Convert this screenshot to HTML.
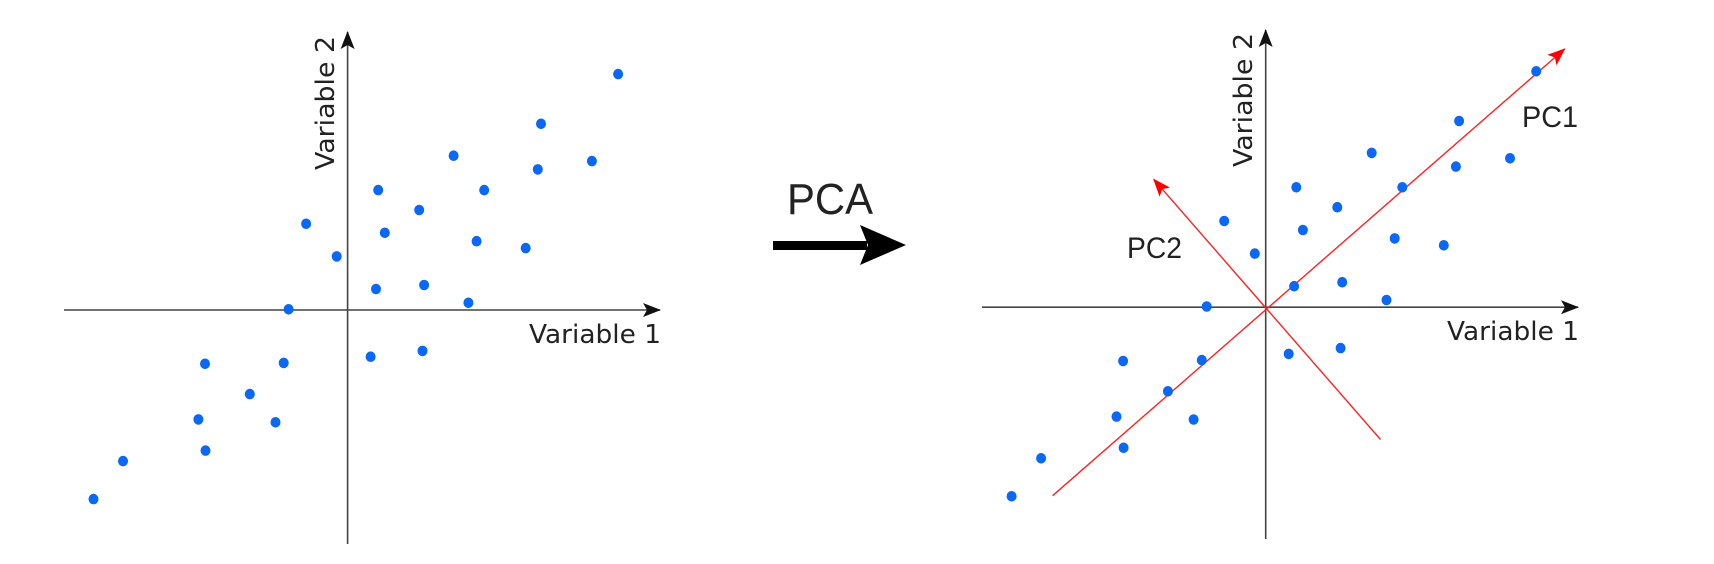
<!DOCTYPE html>
<html><head><meta charset="utf-8"><style>
html,body{margin:0;padding:0;background:#fff;}
svg{display:block;}
text{font-family:"DejaVu Sans","Liberation Sans",sans-serif;fill:#222;}
</style></head><body>
<svg id="chart" width="1714" height="564" viewBox="0 0 1714 564">
  <defs>
    <marker id="blk" markerWidth="18" markerHeight="14" refX="17" refY="7" orient="auto" markerUnits="userSpaceOnUse">
      <path d="M0,0 L18,7 L0,14 L4,7 Z" fill="#111"/>
    </marker>
    <marker id="red" markerWidth="18" markerHeight="14" refX="17" refY="7" orient="auto" markerUnits="userSpaceOnUse">
      <path d="M0,0 L18,7 L0,14 L4,7 Z" fill="#f00"/>
    </marker>
  </defs>
  <g id="left"></g>
  <g id="right"></g>
  <g>
    <text x="787" y="214" font-size="44" textLength="86" lengthAdjust="spacingAndGlyphs" style="font-family:'Liberation Sans',sans-serif">PCA</text>
    <rect x="773" y="241" width="94" height="9" fill="#000"/>
    <path d="M860,225 L906,245 L860,265 L868,245 Z" fill="#000"/>
  </g>
</svg>
<script>
// data in units of 10 px
const varX = [27.05,19.34,10.60,24.43,19.02,3.06,13.66,7.16,-4.15,3.72,12.90,17.81,-1.09,2.84,7.65,12.08,-5.90,2.30,7.49,-14.26,-6.39,-9.78,-14.92,-7.21,-14.21,-22.46,-25.41];
const varY = [23.59,18.62,15.43,14.89,14.06,11.99,11.99,10.00,8.62,7.72,6.88,6.19,5.36,2.10,2.50,0.72,0.07,-4.67,-4.09,-5.38,-5.29,-8.41,-10.94,-11.23,-14.06,-15.11,-18.91];
const pc1 = [-21.31,-18.85,29.90,25.83];
const pc2 = [11.48,-13.23,-11.20,12.79];
const NS='http://www.w3.org/2000/svg';
function mk(tag,attrs,parent){const e=document.createElementNS(NS,tag);for(const k in attrs)e.setAttribute(k,attrs[k]);parent.appendChild(e);return e;}
function plot(g,ox,oy,axis,isPCA){
  const sx=v=>ox+v*10, sy=v=>oy-v*10;
  let e=mk('line',{x1:axis.xl,y1:oy,x2:axis.xr,y2:oy,stroke:'#444','stroke-width':1.6,'marker-end':'url(#blk)'},g);
  
  
  e=mk('line',{x1:ox,y1:axis.yb,x2:ox,y2:axis.yt,stroke:'#444','stroke-width':1.6,'marker-end':'url(#blk)'},g);
  
  
  e=mk('text',{x:axis.l1x,y:axis.l1y,'font-size':26,textLength:132,lengthAdjust:'spacingAndGlyphs'},g);
  e.textContent='Variable 1';
  
  
  e=mk('text',{x:0,y:0,'font-size':26,textLength:134,lengthAdjust:'spacingAndGlyphs',transform:'translate('+axis.l2x+','+axis.l2y+') rotate(-90)'},g);
  e.textContent='Variable 2';
  
  
  if(isPCA){
    e=mk('line',{x1:sx(pc1[0]),y1:sy(pc1[1]),x2:sx(pc1[2]),y2:sy(pc1[3]),stroke:'#f22','stroke-width':1.4,'marker-end':'url(#red)'},g);
    
    
    e=mk('line',{x1:sx(pc2[0]),y1:sy(pc2[1]),x2:sx(pc2[2]),y2:sy(pc2[3]),stroke:'#f22','stroke-width':1.4,'marker-end':'url(#red)'},g);
    
    
    e=mk('text',{x:1522,y:127,'font-size':30,textLength:56,lengthAdjust:'spacingAndGlyphs',style:"font-family:'Liberation Sans',sans-serif"},g);
    e.textContent='PC1';
    
    
    e=mk('text',{x:1127,y:258,'font-size':30,textLength:55,lengthAdjust:'spacingAndGlyphs',style:"font-family:'Liberation Sans',sans-serif"},g);
    e.textContent='PC2';
    
    
  }
  for(let i=0;i<varX.length;i++){
    e=mk('ellipse',{cx:sx(varX[i]),cy:sy(varY[i]),rx:5,ry:5.3,fill:'#0a68f5'},g);
    
    
  }
}
plot(document.getElementById('left'),347.6,310,{xl:64,xr:660,yb:544,yt:32,l1x:529,l1y:343,l2x:334,l2y:170},false);
plot(document.getElementById('right'),1265.7,307.2,{xl:982,xr:1578,yb:539,yt:30,l1x:1447,l1y:340,l2x:1252,l2y:167},true);
</script>
</body></html>
